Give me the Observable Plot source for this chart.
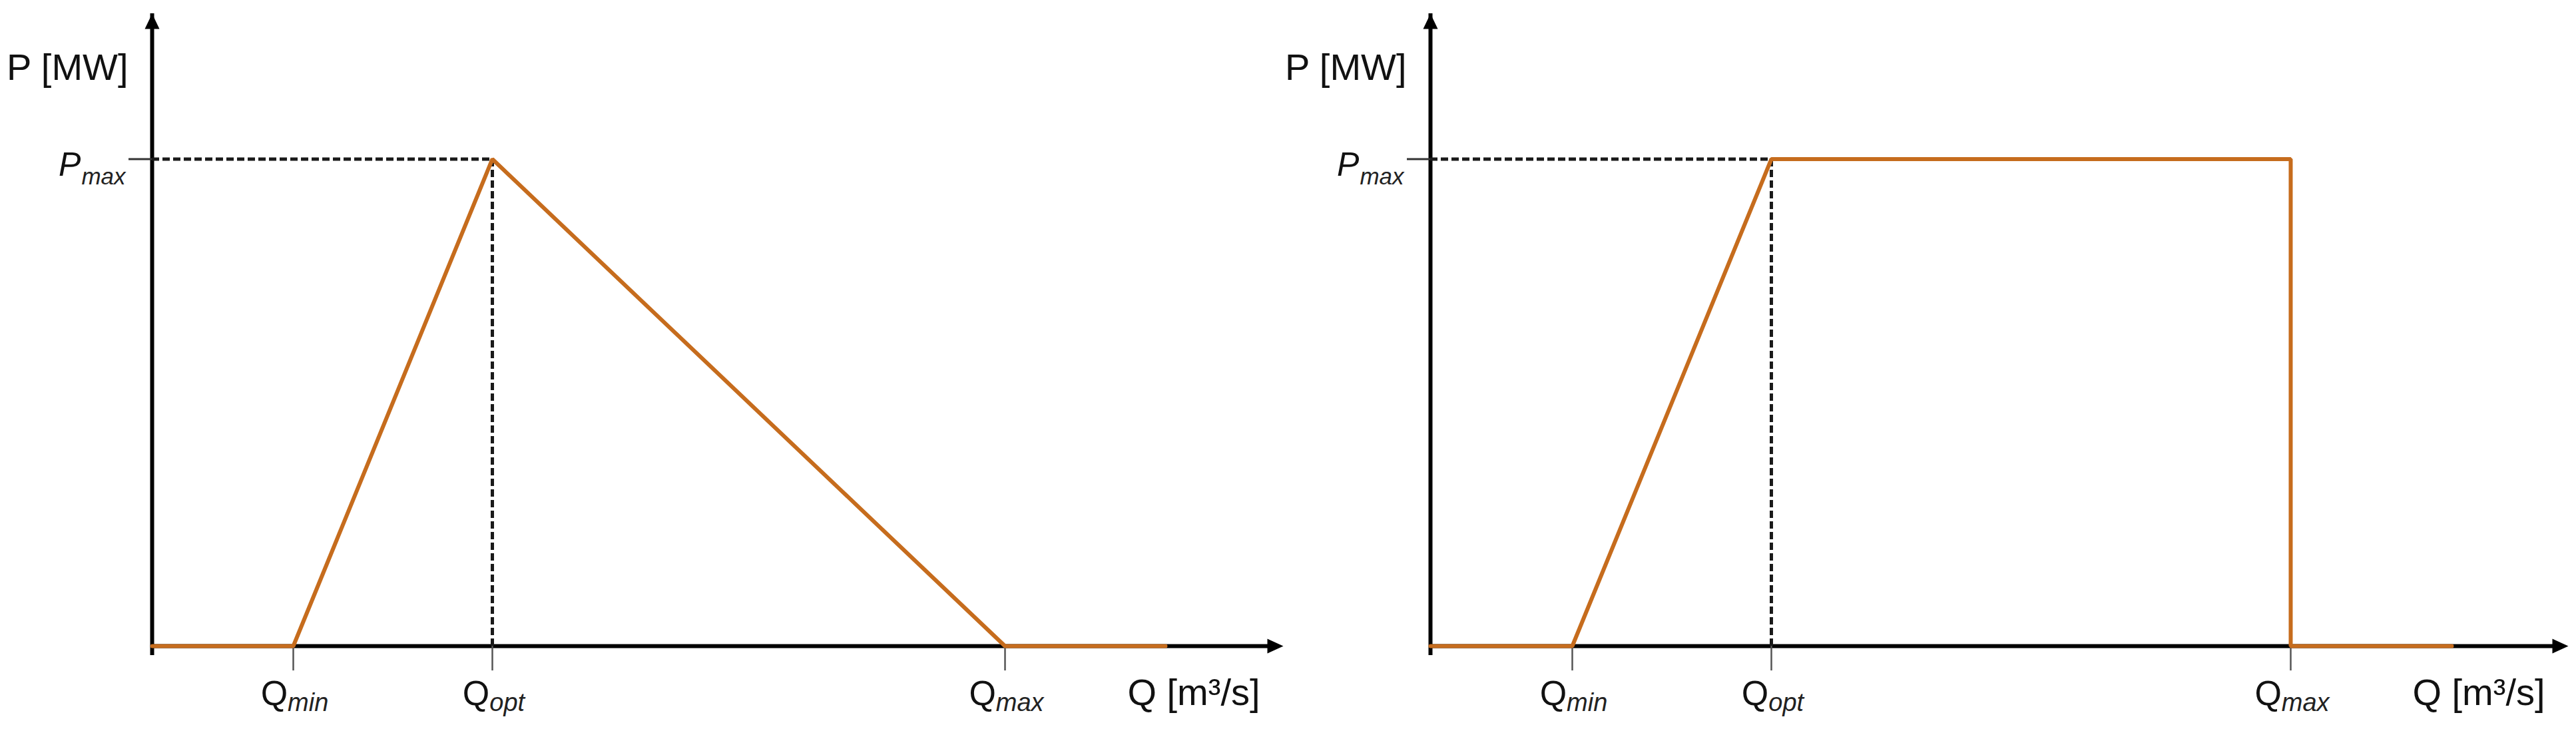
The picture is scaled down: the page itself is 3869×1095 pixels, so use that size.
<!DOCTYPE html>
<html><head><meta charset="utf-8">
<script src="https://cdn.jsdelivr.net/npm/d3@7"></script>
<script src="https://cdn.jsdelivr.net/npm/@observablehq/plot@0.6"></script>
<style>
html,body{margin:0;padding:0;background:#fff;}
#wrap{position:relative;width:3869px;height:1095px;overflow:hidden;background:#fff;}
#wrap svg{position:absolute;top:0;overflow:visible;background:transparent;}
</style></head><body><div id="wrap"></div>
<script>
// ---- data (schematic values) ----
const subscripts = ["min", "opt", "max"];
const pMax = 7.7;            // P_max level
const pTop = 10;             // top of the P axis (arrow tip)
const leftQ = [2.12, 5.11, 12.81];          // Q_min, Q_opt, Q_max (left)
const rightQ = [2.13, 5.12, 12.92];         // Q_min, Q_opt, Q_max (right)
const leftCurveQ = [0, 2.12, 5.11, 12.81, 15.22];
const leftCurveP = [0, 0, 7.7, 0, 0];
const rightCurveQ = [0, 2.13, 5.12, 12.92, 12.92, 15.34];
const rightCurveP = [0, 0, 7.7, 7.7, 0, 0];
const leftAxisEnd = 16.99;
const rightAxisEnd = 17.09;
const yLabel = "P [MW]";
const xLabel = "Q [m³/s]";
const baseQ = "Q";
const baseP = "P";
const subP = "max";

// ---- styling ----
const FONT = "Liberation Sans, Arial, sans-serif";
const ORANGE = "#C66C1D";
const MAIN_FS = 52, SUB_FS = 38, LABEL_FS = 56, P_FS = 50, PSUB_FS = 35;

const canvas = document.createElement("canvas");
const cctx = canvas.getContext("2d");
function measure(text, font) { cctx.font = font; return cctx.measureText(text).width; }

const arrowUp = {draw(ctx, size) { const s = Math.sqrt(size) / 22; ctx.moveTo(0, 0); ctx.lineTo(-11 * s, 23 * s); ctx.lineTo(11 * s, 23 * s); ctx.closePath(); }};
const arrowRight = {draw(ctx, size) { const s = Math.sqrt(size) / 22; ctx.moveTo(0, 0); ctx.lineTo(-24 * s, -11 * s); ctx.lineTo(-24 * s, 11 * s); ctx.closePath(); }};
const R22 = Math.sqrt(22 * 22 / Math.PI);

function panel(qs, curveQ, curveP, axisEnd) {
  const qOpt = qs[1];
  const idx = curveQ.map((_, i) => i);
  const qLabelMarks = [];
  qs.forEach((q, i) => {
    const wQ = measure(baseQ, `${MAIN_FS}px ${FONT}`);
    const wS = measure(subscripts[i], `italic ${SUB_FS}px ${FONT}`);
    const total = wQ + wS;
    qLabelMarks.push(Plot.text([q], {x: d => d, y: () => 0, text: () => baseQ, textAnchor: "start", lineAnchor: "bottom",
      dx: -total / 2 + 2, dy: 88, fontSize: MAIN_FS, fontFamily: FONT, fill: "#111"}));
    qLabelMarks.push(Plot.text([q], {x: d => d, y: () => 0, text: () => subscripts[i], textAnchor: "start", lineAnchor: "bottom",
      dx: -total / 2 + wQ + 2, dy: 97, fontSize: SUB_FS, fontStyle: "italic", fontFamily: FONT, fill: "#222"}));
  });
  const wSubP = measure(subP, `italic ${PSUB_FS}px ${FONT}`);
  return Plot.plot({
    width: 1960, height: 1095,
    x: {domain: [0, axisEnd], range: [228, 228 + axisEnd * 100], axis: null},
    y: {domain: [0, pTop], range: [970, 20], axis: null},
    style: {background: "transparent", overflow: "visible"},
    marks: [
      // axes
      Plot.ruleX([0], {y1: 0, y2: pTop, stroke: "#000", strokeWidth: 6, insetTop: 14}),
      Plot.ruleY([0], {x1: 0, x2: axisEnd, stroke: "#000", strokeWidth: 6, insetRight: 16}),
      Plot.dot([0], {x: () => 0, y: () => pTop, symbol: arrowUp, r: R22, fill: "#000", stroke: "none"}),
      Plot.dot([0], {x: () => axisEnd, y: () => 0, symbol: arrowRight, r: R22, fill: "#000", stroke: "none"}),
      // ticks
      Plot.ruleY([pMax], {x1: -0.35, x2: 0, stroke: "#333", strokeWidth: 3}),
      Plot.ruleX(qs, {y1: 0, y2: -0.39, stroke: "#555", strokeWidth: 2.5}),
      // dashed guides
      Plot.ruleY([pMax], {x1: 0, x2: qOpt, stroke: "#1a1a1a", strokeWidth: 5, strokeDasharray: "11,5"}),
      Plot.ruleX([qOpt], {y1: 0, y2: pMax, stroke: "#1a1a1a", strokeWidth: 5, strokeDasharray: "11,5"}),
      // power curve
      Plot.line(idx, {x: i => curveQ[i], y: i => curveP[i], stroke: ORANGE, strokeWidth: 6, strokeLinejoin: "miter"}),
      // labels
      Plot.text([yLabel], {x: () => 0, y: () => pTop, text: d => d, textAnchor: "end", lineAnchor: "bottom", dx: -36, dy: 99,
        fontSize: LABEL_FS, fontFamily: FONT, fill: "#111"}),
      Plot.text([xLabel], {x: () => axisEnd, y: () => 0, text: d => d, textAnchor: "end", lineAnchor: "bottom", dx: -35, dy: 88,
        fontSize: LABEL_FS, fontFamily: FONT, fill: "#111"}),
      Plot.text([baseP], {x: () => 0, y: () => pMax, text: d => d, textAnchor: "end", lineAnchor: "bottom", dx: -40 - wSubP - 1, dy: 25,
        fontSize: P_FS, fontStyle: "italic", fontFamily: FONT, fill: "#111"}),
      Plot.text([subP], {x: () => 0, y: () => pMax, text: d => d, textAnchor: "end", lineAnchor: "bottom", dx: -40, dy: 38,
        fontSize: PSUB_FS, fontStyle: "italic", fontFamily: FONT, fill: "#222"}),
      ...qLabelMarks
    ]
  });
}

const wrap = document.getElementById("wrap");
const left = panel(leftQ, leftCurveQ, leftCurveP, leftAxisEnd);
left.style.left = "0px";
wrap.appendChild(left);
const right = panel(rightQ, rightCurveQ, rightCurveP, rightAxisEnd);
right.style.left = "1920px";
wrap.appendChild(right);
</script>
</body></html>
